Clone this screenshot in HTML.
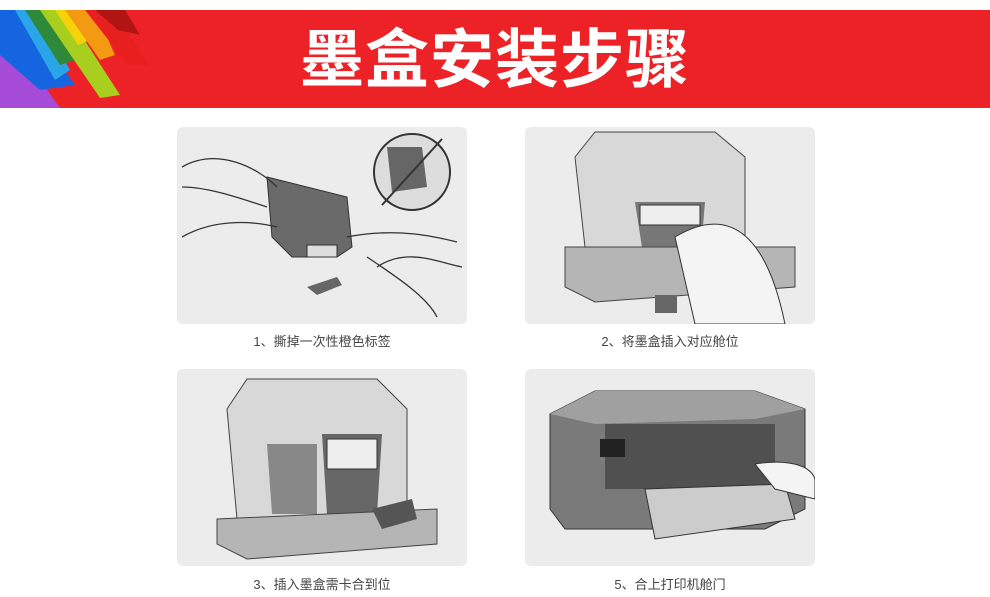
<!DOCTYPE html>
<html><head><meta charset="utf-8"><style>
body{margin:0;width:990px;height:597px;background:#fff;position:relative;overflow:hidden;font-family:"Liberation Sans","Noto Sans CJK SC",sans-serif}
.banner{position:absolute;left:0;top:10px;width:990px;height:98px;background:#ec2227;overflow:hidden}
.title{position:absolute;left:0;width:990px;top:6px;text-align:center;color:#fff;font-size:64px;font-weight:bold;letter-spacing:1px;line-height:78px;font-family:"Noto Sans CJK SC",sans-serif}
.p{position:absolute;width:290px;height:197px;background:#ececec;border-radius:6px;overflow:hidden}
.c{position:absolute;width:290px;text-align:center;font-size:13px;color:#444;font-family:"Liberation Sans","Noto Sans CJK SC",sans-serif}
</style></head><body>
<div class="banner">
<svg width="160" height="98" style="position:absolute;left:0;top:0">
<polygon points="0,40 40,70 60,98 0,98" fill="#a54bd8"/>
<polygon points="0,0 20,0 75,75 40,80 0,45" fill="#1565e0"/>
<polygon points="15,0 35,0 70,60 55,70" fill="#2aa6e8"/>
<polygon points="25,0 50,0 75,50 60,55" fill="#2e8a3a"/>
<polygon points="40,0 65,0 120,85 100,88" fill="#a8cf1e"/>
<polygon points="55,0 70,0 90,30 78,35" fill="#f6d20a"/>
<polygon points="65,0 95,0 115,45 100,50" fill="#f39a12"/>
<polygon points="85,0 115,0 148,55 128,55" fill="#e81f1f"/>
<polygon points="95,0 125,0 140,25 118,20" fill="#b21414"/>
</svg>
<div class="title">墨盒安装步骤</div>
</div>

<div class="p" style="left:177px;top:127px">
<svg width="290" height="197">
<polygon points="90,50 170,70 175,120 160,130 115,130 95,110" fill="#6a6a6a" stroke="#333"/>
<rect x="130" y="118" width="30" height="12" fill="#ddd" stroke="#333"/>
<path d="M5,40 C40,20 80,40 100,60 M5,110 C40,90 80,95 100,100 M170,110 C220,100 260,110 280,115 M190,130 C220,150 250,170 260,190 M5,60 C30,60 60,70 90,80 M200,140 C230,120 260,135 285,140" stroke="#333" fill="none" stroke-width="1.3"/>
<circle cx="235" cy="45" r="38" fill="#ddd" stroke="#333" stroke-width="2"/>
<polygon points="210,20 245,20 250,60 215,65" fill="#666"/>
<line x1="205" y1="78" x2="265" y2="12" stroke="#333" stroke-width="2"/>
<polygon points="130,160 160,150 165,158 140,168" fill="#666"/>
</svg></div>
<div class="c" style="left:177px;top:331px">1、撕掉一次性橙色标签</div>

<div class="p" style="left:525px;top:127px">
<svg width="290" height="197">
<path d="M50,30 L70,5 L190,5 L220,30 L220,120 L60,120 Z" fill="#d8d8d8" stroke="#444"/>
<polygon points="110,75 180,75 175,135 120,140" fill="#777"/>
<rect x="115" y="78" width="60" height="20" fill="#eee" stroke="#333"/>
<path d="M40,120 L270,120 L270,160 L70,175 L40,160 Z" fill="#b5b5b5" stroke="#444"/>
<path d="M150,110 C200,80 240,100 260,197 L170,197 Z" fill="#f4f4f4" stroke="#333"/>
<rect x="130" y="168" width="22" height="18" fill="#666"/>
</svg></div>
<div class="c" style="left:525px;top:331px">2、将墨盒插入对应舱位</div>

<div class="p" style="left:177px;top:369px">
<svg width="290" height="197">
<path d="M50,40 L70,10 L200,10 L230,40 L230,150 L60,150 Z" fill="#d8d8d8" stroke="#444"/>
<polygon points="90,75 140,75 140,145 95,145" fill="#888"/>
<polygon points="145,65 205,65 200,145 150,145" fill="#666"/>
<rect x="150" y="70" width="50" height="30" fill="#eee" stroke="#333"/>
<path d="M40,150 L260,140 L260,175 L70,190 L40,175 Z" fill="#b5b5b5" stroke="#444"/>
<polygon points="195,140 235,130 240,150 205,160" fill="#555"/>
</svg></div>
<div class="c" style="left:177px;top:574px">3、插入墨盒需卡合到位</div>

<div class="p" style="left:525px;top:369px">
<svg width="290" height="197">
<path d="M25,45 L70,22 L230,22 L280,40 L280,140 L240,160 L40,160 L25,140 Z" fill="#7a7a7a" stroke="#333"/>
<path d="M25,45 L70,22 L230,22 L280,40 L230,50 L70,55 Z" fill="#a0a0a0"/>
<rect x="80" y="55" width="170" height="65" fill="#505050"/>
<rect x="75" y="70" width="25" height="18" fill="#222"/>
<path d="M120,120 L260,115 L270,150 L130,170 Z" fill="#ccc" stroke="#333"/>
<path d="M230,95 C260,90 285,95 290,110 L290,130 L250,120 Z" fill="#f4f4f4" stroke="#333"/>
</svg></div>
<div class="c" style="left:525px;top:574px">5、合上打印机舱门</div>
</body></html>
